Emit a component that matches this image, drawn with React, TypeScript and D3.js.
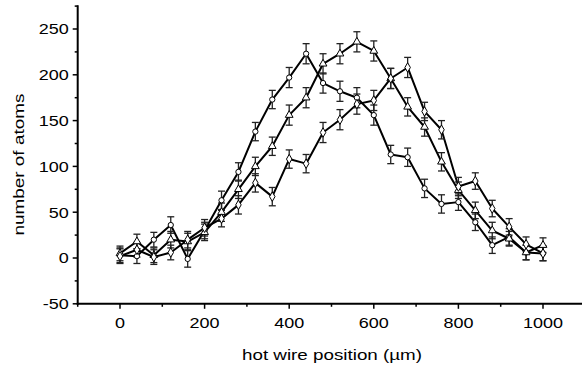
import React from 'react'
import * as d3 from 'd3'

// hot wire position (µm)
const positions = [0, 40, 80, 120, 160, 200, 240, 280, 320, 360, 400, 440, 480, 520, 560, 600, 640, 680, 720, 760, 800, 840, 880, 920, 960, 1000]

// number of atoms, three scans
const circles = [3, 2, 20, 36, -1, 30, 63, 94, 138, 173, 197, 223, 191, 182, 175, 156, 113, 110, 76, 59, 61, 39, 14, 23, 6, 5]
const triangles = [5, 18, 3, 20, 18, 28, 50, 75, 100, 122, 156, 175, 212, 223, 236, 226, 196, 165, 143, 105, 74, 52, 30, 21, 6, 14]
const diamonds = [2, 9, 1, 6, 20, 33, 43, 58, 82, 67, 108, 103, 137, 151, 168, 172, 196, 208, 160, 140, 78, 84, 54, 34, 15, 5]

const circlesErr = [8, 8, 8, 9, 9, 9, 10, 10, 10, 10, 11, 11, 11, 11, 11, 11, 10, 10, 10, 10, 9, 9, 9, 9, 8, 8]
const trianglesErr = [8, 8, 8, 9, 9, 9, 10, 10, 10, 10, 11, 11, 11, 11, 11, 11, 11, 10, 10, 10, 9, 9, 9, 8, 8, 8]
const diamondsErr = [8, 8, 8, 8, 9, 9, 9, 10, 10, 10, 10, 10, 11, 11, 11, 11, 11, 11, 10, 10, 10, 9, 9, 9, 8, 8]

const xTicks = [0, 200, 400, 600, 800, 1000]
const xMinor = [-100, 100, 300, 500, 700, 900, 1100]
const yTicks = [-50, 0, 50, 100, 150, 200, 250]
const yMinor = [-25, 25, 75, 125, 175, 225, 275]

const series = [
  { name: 'circles', values: circles, err: circlesErr, shape: d3.symbolCircle },
  { name: 'triangles', values: triangles, err: trianglesErr, shape: d3.symbolTriangle },
  { name: 'diamonds', values: diamonds, err: diamondsErr, shape: d3.symbolDiamond },
]

export default function App() {
  const width = 582
  const height = 370
  const font = 'Liberation Sans, Arial, Helvetica, sans-serif'
  const stretch = 1.2 // the original lettering is wide

  const x = d3.scaleLinear().domain([0, 1000]).range([120, 543])
  const y = d3.scaleLinear().domain([0, 250]).range([258, 29])

  const x0 = x(-100)
  const x1 = width
  const yBottom = y(-50)
  const yTop = y(276)

  const line = d3.line<number>()
    .x((d, i) => x(positions[i]))
    .y(d => y(d))

  return (
    <svg width={width} height={height} style={{ position: 'absolute', left: 0, top: 0, background: '#fff' }}>
      <g fill="none" stroke="#000">
        {/* lines */}
        {series.map(s => (
          <path key={s.name} d={line(s.values) || ''} strokeWidth={2} strokeLinejoin="round" />
        ))}
        {/* error bars */}
        {series.map(s => (
          <g key={s.name + '-err'} stroke="#222" strokeWidth={1.3}>
            {s.values.map((v, i) => {
              const cx = x(positions[i])
              const top = y(v + s.err[i])
              const bot = y(v - s.err[i])
              return (
                <g key={i}>
                  <line x1={cx} x2={cx} y1={top} y2={bot} />
                  <line x1={cx - 3.5} x2={cx + 3.5} y1={top} y2={top} />
                  <line x1={cx - 3.5} x2={cx + 3.5} y1={bot} y2={bot} />
                </g>
              )
            })}
          </g>
        ))}
        {/* markers */}
        {series.map(s => {
          const sym = d3.symbol().type(s.shape).size(s.shape === d3.symbolCircle ? 22 : 26)
          return (
            <g key={s.name + '-pts'} fill="#fff" stroke="#000" strokeWidth={1}>
              {s.values.map((v, i) => (
                <path key={i} d={sym() || ''} transform={`translate(${x(positions[i])},${y(v)})`} />
              ))}
            </g>
          )
        })}
      </g>

      {/* axes */}
      <g stroke="#000" strokeWidth={2} fill="none">
        <line x1={x0} x2={x0} y1={yTop} y2={yBottom + 1} />
        <line x1={x0 - 1} x2={x1} y1={yBottom} y2={yBottom} />
      </g>
      <g stroke="#000" strokeWidth={1.5}>
        {yTicks.map(t => (
          <line key={'yt' + t} x1={x0 - 5} x2={x0} y1={y(t)} y2={y(t)} />
        ))}
        {yMinor.map(t => (
          <line key={'ym' + t} x1={x0 - 3} x2={x0} y1={y(t)} y2={y(t)} />
        ))}
        {xTicks.map(t => (
          <line key={'xt' + t} x1={x(t)} x2={x(t)} y1={yBottom} y2={yBottom + 5} />
        ))}
        {xMinor.map(t => (
          <line key={'xm' + t} x1={x(t)} x2={x(t)} y1={yBottom} y2={yBottom + 3} />
        ))}
      </g>
      <g fontFamily={font} fontSize={15} fill="#000">
        {yTicks.map(t => (
          <text key={'yl' + t} transform={`translate(${x0 - 9},${y(t)}) scale(${stretch},1)`} dy="0.36em" textAnchor="end">{t}</text>
        ))}
        {xTicks.map(t => (
          <text key={'xl' + t} transform={`translate(${x(t)},${yBottom + 24}) scale(${stretch},1)`} textAnchor="middle">{t}</text>
        ))}
        <text x={332} y={360} textAnchor="middle" textLength={180} lengthAdjust="spacingAndGlyphs">hot wire position (µm)</text>
        <text transform={`translate(24,${y(102)}) rotate(-90)`} textAnchor="middle" textLength={142} lengthAdjust="spacingAndGlyphs">number of atoms</text>
      </g>
    </svg>
  )
}
